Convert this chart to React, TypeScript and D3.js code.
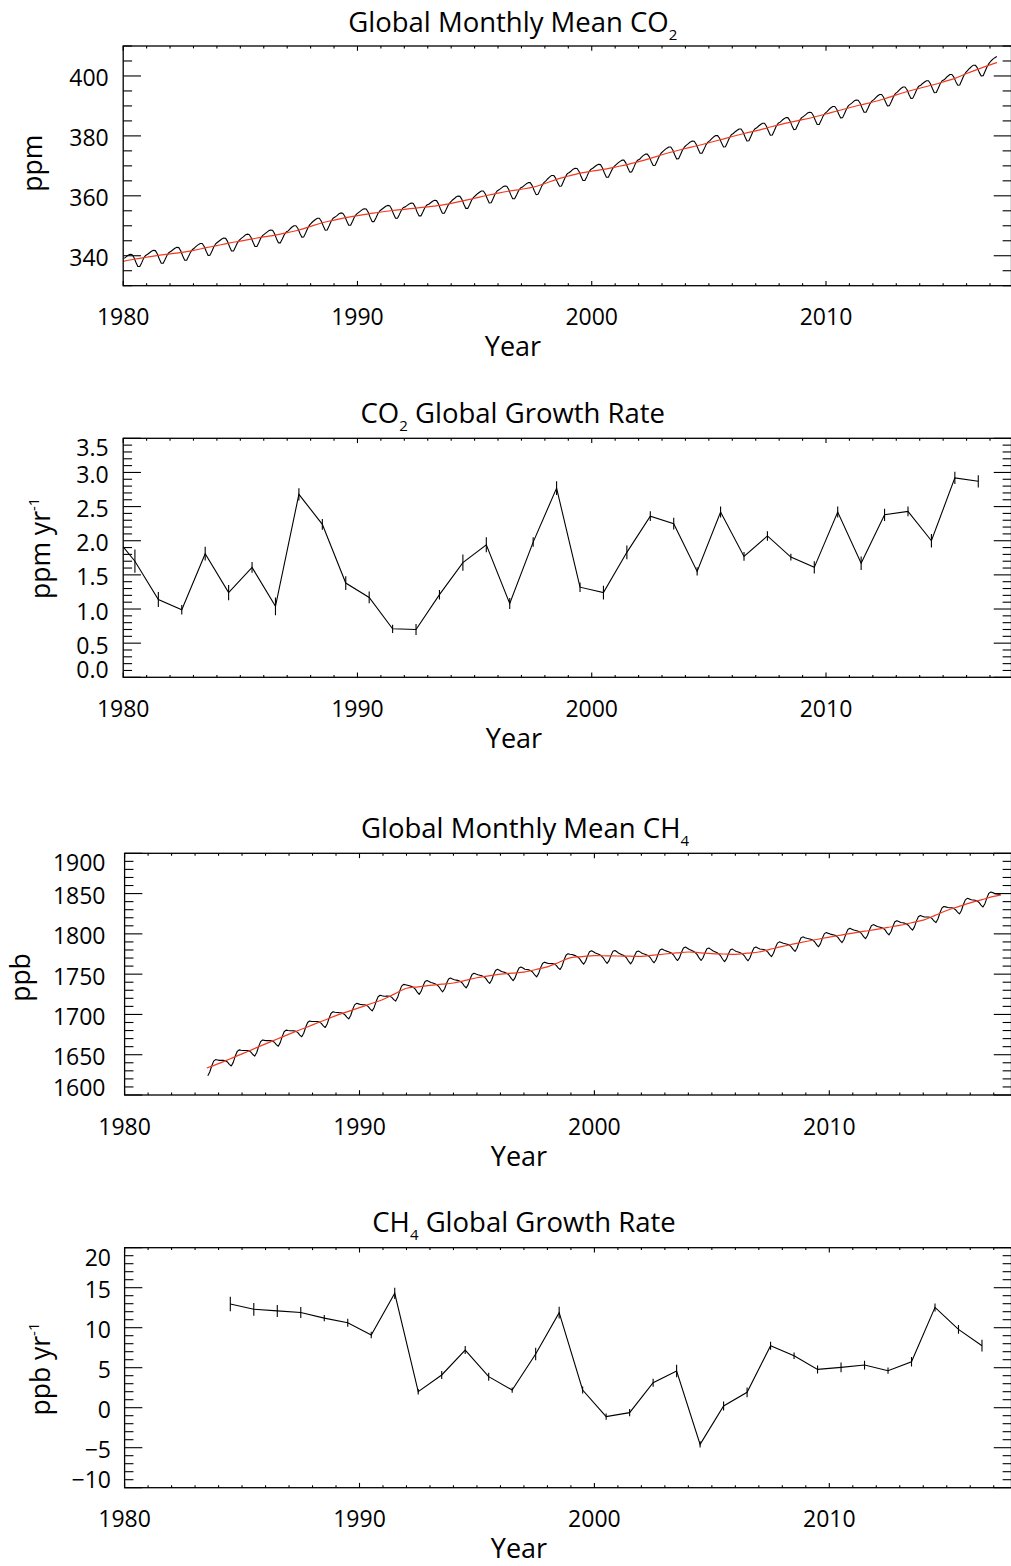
import React from "react";
import * as d3 from "d3";

const WIDTH = 1011;
const HEIGHT = 1566;
const FONT = "'Open Sans', 'Noto Sans', 'DejaVu Sans', sans-serif";
const RED = "#f5391f";

// ---------- CO2: global monthly means (ppm), one row per year from Jan 1980; 2017 runs Jan–Apr ----------
const co2FirstYear = 1980;
const co2Monthly: number[][] = [
  [339.1, 339.6, 340.2, 340.5, 340.4, 339.4, 337.8, 336.4, 336.4, 337.7, 339.2, 340.1],
  [340.5, 341.0, 341.5, 341.8, 341.7, 340.6, 338.9, 337.5, 337.5, 338.8, 340.2, 341.1],
  [341.5, 342.0, 342.5, 342.8, 342.7, 341.6, 339.9, 338.5, 338.5, 339.8, 341.2, 342.1],
  [342.6, 343.2, 343.7, 344.1, 344.1, 343.1, 341.5, 340.1, 340.2, 341.6, 343.1, 344.1],
  [344.6, 345.1, 345.6, 345.9, 345.8, 344.7, 343.0, 341.6, 341.6, 342.9, 344.3, 345.2],
  [345.8, 346.3, 346.9, 347.2, 347.1, 346.1, 344.5, 343.1, 343.1, 344.4, 345.9, 346.8],
  [347.3, 347.8, 348.3, 348.6, 348.5, 347.4, 345.7, 344.3, 344.3, 345.6, 347.0, 347.9],
  [348.3, 349.0, 349.6, 350.0, 350.0, 349.1, 347.5, 346.2, 346.3, 347.7, 349.2, 350.3],
  [351.0, 351.6, 352.1, 352.5, 352.5, 351.5, 349.9, 348.5, 348.6, 350.0, 351.5, 352.5],
  [352.9, 353.4, 354.0, 354.3, 354.2, 353.2, 351.6, 350.2, 350.2, 351.5, 353.0, 353.9],
  [354.4, 354.9, 355.4, 355.7, 355.6, 354.5, 352.8, 351.4, 351.4, 352.7, 354.1, 355.0],
  [355.5, 356.0, 356.5, 356.8, 356.7, 355.6, 353.9, 352.5, 352.5, 353.8, 355.2, 356.1],
  [356.3, 356.8, 357.3, 357.6, 357.5, 356.4, 354.7, 353.3, 353.3, 354.6, 356.0, 356.9],
  [357.2, 357.7, 358.2, 358.5, 358.4, 357.3, 355.6, 354.2, 354.2, 355.5, 356.9, 357.8],
  [358.5, 359.0, 359.6, 359.9, 359.8, 358.8, 357.2, 355.8, 355.8, 357.1, 358.6, 359.5],
  [360.1, 360.7, 361.2, 361.6, 361.6, 360.6, 359.0, 357.6, 357.7, 359.1, 360.6, 361.6],
  [362.0, 362.5, 363.0, 363.3, 363.2, 362.1, 360.4, 359.0, 359.0, 360.3, 361.7, 362.6],
  [362.9, 363.5, 364.0, 364.4, 364.4, 363.4, 361.8, 360.4, 360.5, 361.9, 363.4, 364.4],
  [365.0, 365.7, 366.3, 366.8, 366.8, 365.9, 364.4, 363.2, 363.3, 364.8, 366.3, 367.4],
  [367.8, 368.3, 368.9, 369.2, 369.1, 368.1, 366.5, 365.1, 365.1, 366.4, 367.9, 368.8],
  [369.2, 369.7, 370.2, 370.5, 370.4, 369.3, 367.6, 366.2, 366.2, 367.5, 368.9, 369.8],
  [370.4, 371.0, 371.5, 371.9, 371.9, 370.9, 369.3, 367.9, 368.0, 369.4, 370.9, 371.9],
  [372.2, 372.9, 373.5, 373.9, 373.9, 373.0, 371.4, 370.1, 370.2, 371.6, 373.1, 374.2],
  [374.8, 375.4, 375.9, 376.3, 376.3, 375.3, 373.7, 372.3, 372.4, 373.8, 375.3, 376.3],
  [376.9, 377.4, 378.0, 378.3, 378.2, 377.2, 375.6, 374.2, 374.2, 375.5, 377.0, 377.9],
  [378.4, 379.1, 379.7, 380.1, 380.1, 379.2, 377.6, 376.3, 376.4, 377.8, 379.3, 380.4],
  [380.8, 381.4, 381.9, 382.3, 382.3, 381.3, 379.7, 378.3, 378.4, 379.8, 381.3, 382.3],
  [382.7, 383.3, 383.8, 384.2, 384.2, 383.2, 381.6, 380.2, 380.3, 381.7, 383.2, 384.2],
  [384.6, 385.2, 385.7, 386.1, 386.1, 385.1, 383.5, 382.1, 382.2, 383.6, 385.1, 386.1],
  [386.5, 387.0, 387.6, 387.9, 387.8, 386.8, 385.2, 383.8, 383.8, 385.1, 386.6, 387.5],
  [388.1, 388.8, 389.4, 389.8, 389.8, 388.9, 387.3, 386.0, 386.1, 387.5, 389.0, 390.1],
  [390.6, 391.1, 391.7, 392.0, 391.9, 390.9, 389.3, 387.9, 387.9, 389.2, 390.7, 391.6],
  [392.1, 392.8, 393.4, 393.8, 393.8, 392.9, 391.3, 390.0, 390.1, 391.5, 393.0, 394.1],
  [394.6, 395.3, 395.9, 396.3, 396.3, 395.4, 393.8, 392.5, 392.6, 394.0, 395.5, 396.6],
  [396.9, 397.5, 398.0, 398.4, 398.4, 397.4, 395.8, 394.4, 394.5, 395.9, 397.4, 398.4],
  [398.7, 399.4, 400.0, 400.5, 400.5, 399.6, 398.1, 396.9, 397.0, 398.5, 400.0, 401.1],
  [401.8, 402.5, 403.1, 403.6, 403.6, 402.7, 401.2, 400.0, 400.1, 401.6, 403.1, 404.2],
  [405.0, 405.6, 406.1, 406.5],
];

// De-seasonalised CO2 trend (decimal year, ppm)
const co2Trend: [number, number][] = [
  [1980.0, 338.1], [1980.5, 338.9], [1981.0, 339.5], [1981.5, 340.1], [1982.0, 340.6], [1982.5, 341.1],
  [1983.0, 341.8], [1983.5, 342.6], [1984.0, 343.4], [1984.5, 344.2], [1985.0, 344.9], [1985.5, 345.6],
  [1986.0, 346.3], [1986.5, 346.9], [1987.0, 347.7], [1987.5, 348.6], [1988.0, 349.8], [1988.5, 351.0],
  [1989.0, 351.9], [1989.5, 352.7], [1990.0, 353.4], [1990.5, 354.0], [1991.0, 354.6], [1991.5, 355.1],
  [1992.0, 355.5], [1992.5, 355.9], [1993.0, 356.3], [1993.5, 356.8], [1994.0, 357.5], [1994.5, 358.3],
  [1995.0, 359.2], [1995.5, 360.1], [1996.0, 360.9], [1996.5, 361.6], [1997.0, 362.2], [1997.5, 362.9],
  [1998.0, 364.1], [1998.5, 365.5], [1999.0, 366.6], [1999.5, 367.6], [2000.0, 368.2], [2000.5, 368.8],
  [2001.0, 369.6], [2001.5, 370.4], [2002.0, 371.4], [2002.5, 372.5], [2003.0, 373.7], [2003.5, 374.8],
  [2004.0, 375.8], [2004.5, 376.7], [2005.0, 377.7], [2005.5, 378.7], [2006.0, 379.8], [2006.5, 380.8],
  [2007.0, 381.7], [2007.5, 382.7], [2008.0, 383.7], [2008.5, 384.6], [2009.0, 385.4], [2009.5, 386.3],
  [2010.0, 387.3], [2010.5, 388.4], [2011.0, 389.4], [2011.5, 390.4], [2012.0, 391.3], [2012.5, 392.4],
  [2013.0, 393.7], [2013.5, 394.9], [2014.0, 395.9], [2014.5, 396.9], [2015.0, 398.0], [2015.5, 399.2],
  [2016.0, 400.8], [2016.5, 402.3], [2017.0, 403.7], [2017.3, 404.5],
];

// ---------- CO2 annual growth rate (ppm/yr) at mid-year, 1979.5 – 2016.5 ----------
const co2GrowthYears = d3.range(1979.5, 2017, 1);
const co2Growth = [
  2.12, 1.70, 1.14, 0.99, 1.81, 1.24, 1.61, 1.04, 2.68, 2.24, 1.38,
  1.17, 0.71, 0.70, 1.21, 1.68, 1.94, 1.08, 1.98, 2.77, 1.32,
  1.24, 1.83, 2.36, 2.25, 1.55, 2.42, 1.77, 2.07, 1.76, 1.61,
  2.42, 1.67, 2.38, 2.43, 2.00, 2.92, 2.87,
];
const co2GrowthErr = [
  0.15, 0.17, 0.11, 0.07, 0.10, 0.11, 0.08, 0.13, 0.09, 0.08, 0.10,
  0.085, 0.06, 0.08, 0.07, 0.12, 0.11, 0.08, 0.07, 0.10, 0.07,
  0.10, 0.10, 0.07, 0.085, 0.06, 0.08, 0.065, 0.07, 0.05, 0.09,
  0.08, 0.10, 0.09, 0.07, 0.10, 0.09, 0.09,
];

// ---------- CH4: global monthly means (ppb); first row is Jul–Dec 1983, last is Jan–Apr 2017 ----------
const ch4FirstYear = 1983;
const ch4FirstMonth = 6; // July (0-based)
const ch4Monthly: number[][] = [
  [1624.0, 1628.5, 1636.0, 1642.0, 1644.0, 1643.5],
  [1643.0, 1643.0, 1643.0, 1642.5, 1641.0, 1638.0, 1636.0, 1640.5, 1648.0, 1654.0, 1656.0, 1655.5],
  [1655.3, 1655.3, 1655.3, 1654.8, 1653.3, 1650.3, 1648.3, 1652.8, 1660.3, 1666.3, 1668.3, 1667.8],
  [1667.5, 1667.5, 1667.5, 1667.0, 1665.5, 1662.5, 1660.5, 1665.0, 1672.5, 1678.5, 1680.5, 1680.0],
  [1679.8, 1679.7, 1679.6, 1679.0, 1677.4, 1674.3, 1672.3, 1676.7, 1684.1, 1690.0, 1691.9, 1691.3],
  [1691.3, 1691.2, 1691.1, 1690.5, 1688.9, 1685.8, 1683.8, 1688.2, 1695.6, 1701.5, 1703.4, 1702.8],
  [1702.4, 1702.2, 1702.1, 1701.4, 1699.7, 1696.6, 1694.4, 1698.7, 1706.1, 1711.9, 1713.8, 1713.1],
  [1712.4, 1712.2, 1712.1, 1711.4, 1709.7, 1706.6, 1704.4, 1708.7, 1716.1, 1721.9, 1723.8, 1723.1],
  [1722.6, 1722.7, 1722.9, 1722.6, 1721.2, 1718.4, 1716.6, 1721.2, 1728.9, 1735.1, 1737.3, 1736.9],
  [1736.2, 1735.5, 1734.8, 1733.6, 1731.4, 1727.7, 1724.9, 1728.7, 1735.5, 1740.8, 1742.1, 1740.9],
  [1739.6, 1738.9, 1738.1, 1736.9, 1734.6, 1730.9, 1728.1, 1731.9, 1738.6, 1743.9, 1745.1, 1743.9],
  [1743.1, 1742.6, 1742.0, 1741.0, 1739.0, 1735.5, 1733.0, 1737.0, 1744.1, 1749.6, 1751.1, 1750.1],
  [1749.2, 1748.6, 1748.0, 1746.9, 1744.7, 1741.1, 1738.5, 1742.4, 1749.2, 1754.6, 1756.0, 1754.9],
  [1753.4, 1752.7, 1751.9, 1750.7, 1748.4, 1744.7, 1741.9, 1745.7, 1752.4, 1757.7, 1758.9, 1757.7],
  [1756.1, 1755.7, 1755.3, 1754.3, 1752.4, 1749.0, 1746.6, 1750.7, 1757.8, 1763.3, 1764.9, 1764.0],
  [1763.3, 1763.2, 1763.1, 1762.5, 1760.9, 1757.8, 1755.8, 1760.2, 1767.6, 1773.5, 1775.4, 1774.8],
  [1774.4, 1773.6, 1772.7, 1771.4, 1769.0, 1765.2, 1762.4, 1766.0, 1772.7, 1777.9, 1779.1, 1777.7],
  [1776.3, 1775.3, 1774.3, 1772.8, 1770.3, 1766.3, 1763.3, 1766.8, 1773.3, 1778.3, 1779.3, 1777.8],
  [1775.8, 1774.8, 1773.8, 1772.3, 1769.8, 1765.8, 1762.8, 1766.3, 1772.8, 1777.8, 1778.8, 1777.3],
  [1775.6, 1774.9, 1774.1, 1772.9, 1770.6, 1766.9, 1764.1, 1767.9, 1774.6, 1779.9, 1781.1, 1779.9],
  [1778.9, 1778.1, 1777.2, 1775.9, 1773.5, 1769.7, 1766.9, 1770.5, 1777.2, 1782.4, 1783.6, 1782.2],
  [1780.7, 1779.6, 1778.4, 1776.8, 1774.2, 1770.1, 1766.9, 1770.3, 1776.7, 1781.6, 1782.4, 1780.8],
  [1779.0, 1777.9, 1776.8, 1775.2, 1772.6, 1768.5, 1765.5, 1768.9, 1775.3, 1780.2, 1781.1, 1779.5],
  [1778.1, 1777.4, 1776.6, 1775.4, 1773.1, 1769.4, 1766.6, 1770.4, 1777.1, 1782.4, 1783.6, 1782.4],
  [1781.3, 1780.9, 1780.5, 1779.5, 1777.6, 1774.2, 1771.8, 1775.9, 1783.0, 1788.5, 1790.1, 1789.2],
  [1788.3, 1787.8, 1787.2, 1786.2, 1784.2, 1780.7, 1778.2, 1782.2, 1789.3, 1794.8, 1796.3, 1795.3],
  [1794.5, 1793.9, 1793.3, 1792.3, 1790.2, 1786.6, 1784.0, 1787.9, 1794.8, 1800.3, 1801.7, 1800.6],
  [1799.7, 1799.1, 1798.5, 1797.5, 1795.4, 1791.8, 1789.2, 1793.1, 1800.0, 1805.5, 1806.9, 1805.8],
  [1804.7, 1804.1, 1803.5, 1802.4, 1800.2, 1796.6, 1794.0, 1797.9, 1804.7, 1810.1, 1811.5, 1810.4],
  [1809.2, 1808.6, 1808.0, 1807.0, 1804.9, 1801.3, 1798.7, 1802.6, 1809.5, 1815.0, 1816.4, 1815.3],
  [1814.1, 1813.7, 1813.3, 1812.3, 1810.4, 1807.0, 1804.6, 1808.7, 1815.8, 1821.3, 1822.9, 1822.0],
  [1821.0, 1821.0, 1821.0, 1820.5, 1819.0, 1816.0, 1814.0, 1818.5, 1826.0, 1832.0, 1834.0, 1833.5],
  [1832.7, 1832.5, 1832.4, 1831.7, 1830.0, 1826.9, 1824.7, 1829.0, 1836.4, 1842.2, 1844.1, 1843.4],
  [1842.3, 1842.0, 1841.7, 1840.8, 1839.0, 1835.7, 1833.3, 1837.5, 1844.7, 1850.3, 1852.0, 1851.2],
  [1850.0, 1849.6, 1849.2, 1848.2],
];

// De-seasonalised CH4 trend (decimal year, ppb)
const ch4Trend: [number, number][] = [
  [1983.5, 1633.5], [1984.0, 1639.0], [1984.5, 1645.0], [1985.0, 1651.0], [1985.5, 1657.3],
  [1986.0, 1663.5], [1986.5, 1669.5], [1987.0, 1675.5], [1987.5, 1681.3], [1988.0, 1687.0],
  [1988.5, 1692.8], [1989.0, 1698.5], [1989.5, 1703.5], [1990.0, 1708.5], [1990.5, 1713.5],
  [1991.0, 1718.5], [1991.5, 1725.5], [1992.0, 1732.5], [1992.5, 1734.3], [1993.0, 1736.0],
  [1993.5, 1737.5], [1994.0, 1739.0], [1994.5, 1742.3], [1995.0, 1745.5], [1995.5, 1747.8],
  [1996.0, 1750.0], [1996.5, 1751.3], [1997.0, 1752.5], [1997.5, 1755.8], [1998.0, 1759.0],
  [1998.5, 1764.8], [1999.0, 1770.5], [1999.5, 1771.8], [2000.0, 1773.0], [2000.5, 1772.8],
  [2001.0, 1772.5], [2001.5, 1772.3], [2002.0, 1772.0], [2002.5, 1773.5], [2003.0, 1775.0],
  [2003.5, 1776.3], [2004.0, 1777.5], [2004.5, 1776.5], [2005.0, 1775.5], [2005.5, 1775.0],
  [2006.0, 1774.5], [2006.5, 1776.0], [2007.0, 1777.5], [2007.5, 1781.0], [2008.0, 1784.5],
  [2008.5, 1787.5], [2009.0, 1790.5], [2009.5, 1793.3], [2010.0, 1796.0], [2010.5, 1798.5],
  [2011.0, 1801.0], [2011.5, 1803.3], [2012.0, 1805.5], [2012.5, 1808.0], [2013.0, 1810.5],
  [2013.5, 1813.8], [2014.0, 1817.0], [2014.5, 1823.0], [2015.0, 1829.0], [2015.5, 1833.8],
  [2016.0, 1838.5], [2016.5, 1842.5], [2017.0, 1846.5], [2017.3, 1848.5],
];

// ---------- CH4 annual growth rate (ppb/yr) at mid-year, 1984.5 – 2016.5 ----------
const ch4GrowthYears = d3.range(1984.5, 2017, 1);
const ch4Growth = [
  12.96, 12.3, 12.1, 11.9, 11.2, 10.63,
  9.09, 14.3, 2.0, 4.09, 7.21, 3.88, 2.21, 6.71, 11.88, 2.21,
  -1.12, -0.62, 3.13, 4.59, -4.58, 0.21, 1.92, 7.75, 6.5, 4.79,
  5.04, 5.33, 4.63, 5.75, 12.54, 9.79, 7.75,
];
const ch4GrowthErr = [
  0.9, 0.8, 0.75, 0.7, 0.4, 0.5,
  0.4, 0.7, 0.35, 0.5, 0.5, 0.5, 0.33, 0.77, 0.73, 0.45,
  0.4, 0.45, 0.5, 0.77, 0.4, 0.55, 0.6, 0.5, 0.4, 0.5,
  0.6, 0.55, 0.4, 0.6, 0.5, 0.55, 0.73,
];

// ---------- axis tick values ----------
const yearMajorTicks = [1980, 1990, 2000, 2010];
const yearMinorTicks = d3.range(1980, 2018, 1);
const co2Ticks = [340, 360, 380, 400];
const co2GrowthTicks = [0.0, 0.5, 1.0, 1.5, 2.0, 2.5, 3.0, 3.5];
const ch4Ticks = [1600, 1650, 1700, 1750, 1800, 1850, 1900];
const ch4GrowthTicks = [-10, -5, 0, 5, 10, 15, 20];

function monthlySeries(rows: number[][], firstYear: number, firstMonth: number): [number, number][] {
  const out: [number, number][] = [];
  let m = firstMonth;
  rows.forEach((row) =>
    row.forEach((v) => {
      out.push([firstYear + (m + 0.5) / 12, v]);
      m += 1;
    })
  );
  return out;
}

const RIGHT = 1011.5;

type Scale = d3.ScaleLinear<number, number>;

interface PanelCfg {
  id: string;
  top: number;
  bottom: number;
  xAt1980: number;
  xAt2010: number;
  yDomain: [number, number];
  yMajor: number[];
  yMinor: number[];
  yFmt: (v: number) => string;
  yLabelRight: number;
  title: React.ReactNode;
  titleX: number;
  titleY: number;
  yTitle: React.ReactNode;
  yTitleX: number;
  yTitleY: number;
  xTitleX: number;
  draw: (x: Scale, y: Scale) => React.ReactNode;
}

function Panel({ cfg }: { cfg: PanelCfg }) {
  const x = d3.scaleLinear().domain([1980, 2010]).range([cfg.xAt1980, cfg.xAt2010]);
  const y = d3.scaleLinear().domain(cfg.yDomain).range([cfg.bottom, cfg.top]);
  const left = x(1980);
  const w = RIGHT - left;
  const h = cfg.bottom - cfg.top;
  const yMaj = 0.02 * w;
  const xMaj = 0.02 * h;
  const tickStyle = { stroke: "#000", strokeWidth: 1.1 };
  const isMajorX = (v: number) => yearMajorTicks.includes(v);
  const isMajorY = (v: number) => cfg.yMajor.some((m) => Math.abs(m - v) < 1e-6);

  return (
    <g>
      <defs>
        <clipPath id={`clip-${cfg.id}`}>
          <rect x={left} y={cfg.top} width={w} height={h} />
        </clipPath>
      </defs>
      <g clipPath={`url(#clip-${cfg.id})`}>{cfg.draw(x, y)}</g>

      {/* x ticks, bottom and top */}
      {yearMinorTicks.map((v) => {
        const len = isMajorX(v) ? xMaj : xMaj / 2;
        const px = x(v);
        return (
          <g key={`xt${v}`}>
            <line x1={px} x2={px} y1={cfg.bottom} y2={cfg.bottom - len} {...tickStyle} />
            <line x1={px} x2={px} y1={cfg.top} y2={cfg.top + len} {...tickStyle} />
          </g>
        );
      })}
      {/* y ticks, left and right */}
      {cfg.yMinor.map((v, i) => {
        const len = isMajorY(v) ? yMaj : yMaj / 2;
        const py = y(v);
        return (
          <g key={`yt${i}`}>
            <line x1={left} x2={left + len} y1={py} y2={py} {...tickStyle} />
            <line x1={RIGHT} x2={RIGHT - len} y1={py} y2={py} {...tickStyle} />
          </g>
        );
      })}
      <rect x={left} y={cfg.top} width={w} height={h} fill="none" stroke="#000" strokeWidth={1.3} />

      {/* x tick labels */}
      {yearMajorTicks.map((v) => (
        <text key={`xl${v}`} x={x(v)} y={cfg.bottom + 39.5} textAnchor="middle" fontSize={23} fill="#000">
          {v}
        </text>
      ))}
      {/* y tick labels */}
      {cfg.yMajor.map((v, i) => {
        const base = Math.min(Math.max(y(v) + 10.5, cfg.top + 18), cfg.bottom + 0.5);
        return (
          <text key={`yl${i}`} x={cfg.yLabelRight} y={base} textAnchor="end" fontSize={23} fill="#000">
            {cfg.yFmt(v)}
          </text>
        );
      })}

      <text x={cfg.titleX} y={cfg.titleY} textAnchor="middle" fontSize={27.5} fill="#000">
        {cfg.title}
      </text>
      <text x={cfg.xTitleX} y={cfg.bottom + 70.5} textAnchor="middle" fontSize={27} fill="#000">
        Year
      </text>
      <text
        transform={`translate(${cfg.yTitleX},${cfg.yTitleY}) rotate(-90)`}
        textAnchor="middle"
        fontSize={26.5}
        fill="#000"
      >
        {cfg.yTitle}
      </text>
    </g>
  );
}

function SeriesWithTrend(x: Scale, y: Scale, monthly: [number, number][], trend: [number, number][]) {
  const line = d3
    .line<[number, number]>()
    .x((d) => x(d[0]))
    .y((d) => y(d[1]));
  const smooth = d3
    .line<[number, number]>()
    .x((d) => x(d[0]))
    .y((d) => y(d[1]))
    .curve(d3.curveMonotoneX);
  return (
    <g>
      <path d={line(monthly) ?? ""} fill="none" stroke="#000" strokeWidth={1.1} strokeLinejoin="round" />
      <path d={smooth(trend) ?? ""} fill="none" stroke={RED} strokeWidth={1.2} />
    </g>
  );
}

function GrowthWithErrors(x: Scale, y: Scale, years: number[], vals: number[], errs: number[]) {
  const pts = years.map((yr, i) => [yr, vals[i]] as [number, number]);
  const line = d3
    .line<[number, number]>()
    .x((d) => x(d[0]))
    .y((d) => y(d[1]));
  return (
    <g>
      <path d={line(pts) ?? ""} fill="none" stroke="#000" strokeWidth={1.1} />
      {years.map((yr, i) => (
        <line
          key={i}
          x1={x(yr)}
          x2={x(yr)}
          y1={y(vals[i] - errs[i])}
          y2={y(vals[i] + errs[i])}
          stroke="#000"
          strokeWidth={1.1}
        />
      ))}
    </g>
  );
}

const SUB = { fontSize: 15 };

export default function App() {
  const co2Series = monthlySeries(co2Monthly, co2FirstYear, 0);
  const ch4Series = monthlySeries(ch4Monthly, ch4FirstYear, ch4FirstMonth);

  const panels: PanelCfg[] = [
    {
      id: "co2",
      top: 46,
      bottom: 285.7,
      xAt1980: 123.2,
      xAt2010: 826,
      yDomain: [330, 410],
      yMajor: co2Ticks,
      yMinor: d3.range(330, 410.01, 5),
      yFmt: (v) => String(v),
      yLabelRight: 108.7,
      title: (
        <>
          Global Monthly Mean CO<tspan dy={8} {...SUB}>2</tspan>
        </>
      ),
      titleX: 512.8,
      titleY: 31.7,
      yTitle: "ppm",
      yTitleX: 42,
      yTitleY: 163.3,
      xTitleX: 513,
      draw: (x, y) => SeriesWithTrend(x, y, co2Series, co2Trend),
    },
    {
      id: "co2g",
      top: 438.3,
      bottom: 677.3,
      xAt1980: 123.2,
      xAt2010: 826,
      yDomain: [0, 3.5],
      yMajor: co2GrowthTicks,
      yMinor: d3.range(0, 36, 1).map((k) => k / 10),
      yFmt: (v) => v.toFixed(1),
      yLabelRight: 108.7,
      title: (
        <>
          CO<tspan dy={8} {...SUB}>2</tspan>
          <tspan dy={-8}> Global Growth Rate</tspan>
        </>
      ),
      titleX: 512.8,
      titleY: 423.3,
      yTitle: (
        <>
          ppm yr<tspan dy={-11} {...SUB}>-1</tspan>
        </>
      ),
      yTitleX: 50,
      yTitleY: 548.3,
      xTitleX: 514,
      draw: (x, y) => GrowthWithErrors(x, y, co2GrowthYears, co2Growth, co2GrowthErr),
    },
    {
      id: "ch4",
      top: 853.3,
      bottom: 1095,
      xAt1980: 124.6,
      xAt2010: 829.3,
      yDomain: [1600, 1900],
      yMajor: ch4Ticks,
      yMinor: d3.range(1600, 1900.1, 10),
      yFmt: (v) => String(v),
      yLabelRight: 105.5,
      title: (
        <>
          Global Monthly Mean CH<tspan dy={8} {...SUB}>4</tspan>
        </>
      ),
      titleX: 525,
      titleY: 838.3,
      yTitle: "ppb",
      yTitleX: 30,
      yTitleY: 977.5,
      xTitleX: 519,
      draw: (x, y) => SeriesWithTrend(x, y, ch4Series, ch4Trend),
    },
    {
      id: "ch4g",
      top: 1247.7,
      bottom: 1487.7,
      xAt1980: 124.6,
      xAt2010: 829.3,
      yDomain: [-10, 20],
      yMajor: ch4GrowthTicks,
      yMinor: d3.range(-10, 20.1, 1),
      yFmt: (v) => (v < 0 ? `\u2212${Math.abs(v)}` : String(v)),
      yLabelRight: 111,
      title: (
        <>
          CH<tspan dy={8} {...SUB}>4</tspan>
          <tspan dy={-8}> Global Growth Rate</tspan>
        </>
      ),
      titleX: 524,
      titleY: 1232.3,
      yTitle: (
        <>
          ppb yr<tspan dy={-11} {...SUB}>-1</tspan>
        </>
      ),
      yTitleX: 50,
      yTitleY: 1369,
      xTitleX: 519,
      draw: (x, y) => GrowthWithErrors(x, y, ch4GrowthYears, ch4Growth, ch4GrowthErr),
    },
  ];

  return (
    <svg
      width={WIDTH}
      height={HEIGHT}
      viewBox={`0 0 ${WIDTH} ${HEIGHT}`}
      style={{ position: "absolute", left: 0, top: 0, background: "#fff" }}
      fontFamily={FONT}
    >
      <rect x={0} y={0} width={WIDTH} height={HEIGHT} fill="#fff" />
      {panels.map((p) => (
        <Panel key={p.id} cfg={p} />
      ))}
    </svg>
  );
}
